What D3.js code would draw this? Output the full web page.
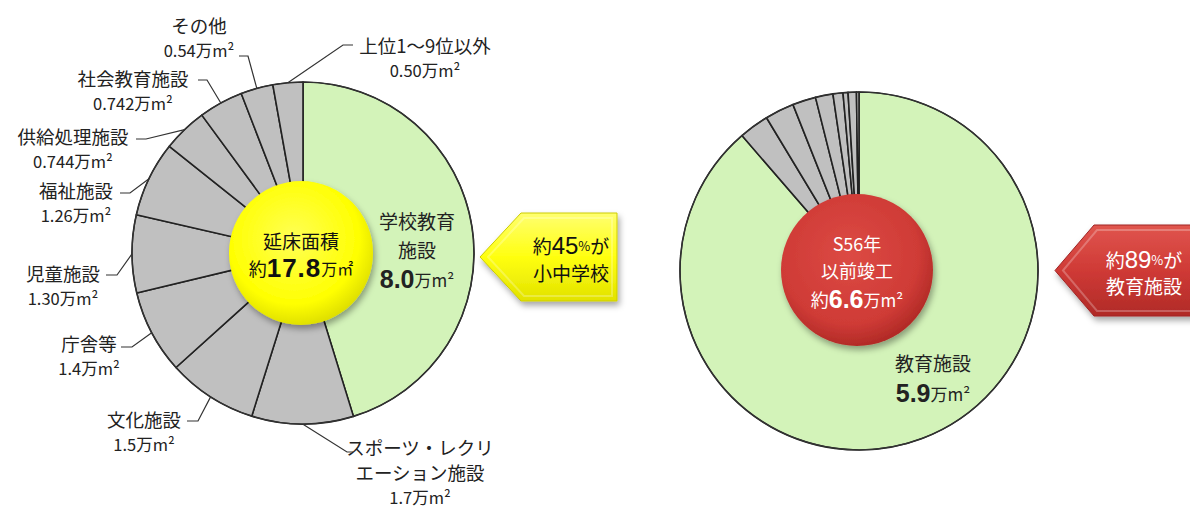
<!DOCTYPE html>
<html>
<head>
<meta charset="utf-8">
<script src="https://cdn.jsdelivr.net/npm/d3@7"></script>
<style>
  body { margin: 0; background: #fff; }
  svg { display: block; font-family: "Noto Sans CJK JP", "Noto Sans", sans-serif; }
</style>
</head>
<body>
<div id="chart"></div>
<script>
// 延床面積の内訳（万m²）、上から時計回り
const categories = ['学校教育施設', 'スポーツ・レクリエーション施設', '文化施設', '庁舎等', '児童施設',
  '福祉施設', '供給処理施設', '社会教育施設', 'その他', '上位1～9位以外'];
const areaValues = [8.0, 1.7, 1.5, 1.4, 1.30, 1.26, 0.744, 0.742, 0.54, 0.50];
const areaLabels = ['8.0', '1.7', '1.5', '1.4', '1.30', '1.26', '0.744', '0.742', '0.54', '0.50'];
const totalLabel = '17.8';

// S56年以前竣工の内訳（万m²）、先頭が教育施設
const oldCategories = ['教育施設', 'a', 'b', 'c', 'd', 'e', 'f', 'g', 'h'];
const oldValues = [5.9, 0.18, 0.175, 0.14, 0.105, 0.06, 0.03, 0.05, 0.015];
const oldTotalLabel = '6.6';

const shareLabels = ['45', '89'];

// layout
const W = 1190, H = 511;
const left = { cx: 303, cy: 253, r: 171, hub: 72 };
const right = { cx: 859, cy: 271, r: 179, hub: 76 };
const GREEN = '#d3f3b9', GRAY = '#c0c0c0', INK = '#222';

// label positions for the left pie (index matches categories)
const labelLayout = [
  null,
  { x: 420, y: 447, names: ['スポーツ・レクリ', 'エーション施設'], elbow: [347, 452], end: [353, 452] },
  { x: 144, y: 419, names: ['文化施設'], elbow: [198, 421], end: [187, 421] },
  { x: 89, y: 343, names: ['庁舎等'], elbow: [132, 347], end: [121, 347] },
  { x: 63, y: 273, names: ['児童施設'], elbow: [117, 275], end: [106, 275] },
  { x: 76, y: 190, names: ['福祉施設'], elbow: [130, 193], end: [120, 193] },
  { x: 73, y: 136, names: ['供給処理施設'], elbow: [146, 139], end: [136, 139] },
  { x: 133, y: 78, names: ['社会教育施設'], elbow: [207, 80], end: [198, 80] },
  { x: 199, y: 25, names: ['その他'], elbow: [248, 56], end: [239, 56] },
  { x: 425, y: 45, names: ['上位1～9位以外'], elbow: [343, 45], end: [353, 45] }
];

const svg = d3.select('#chart').append('svg')
    .attr('width', W)
    .attr('height', H)
    .attr('viewBox', [0, 0, W, H]);

const defs = svg.append('defs');

const shadow = defs.append('filter').attr('id', 'shadow')
    .attr('x', '-20%').attr('y', '-20%').attr('width', '150%').attr('height', '150%');
shadow.append('feDropShadow')
    .attr('dx', 2).attr('dy', 4).attr('stdDeviation', 3)
    .attr('flood-color', '#000').attr('flood-opacity', 0.35);

const addRadial = (id, stops) => {
  const g = defs.append('radialGradient').attr('id', id)
      .attr('cx', '45%').attr('cy', '40%').attr('r', '65%');
  stops.forEach(([o, c]) => g.append('stop').attr('offset', o).attr('stop-color', c));
};
const addLinear = (id, stops) => {
  const g = defs.append('linearGradient').attr('id', id)
      .attr('x1', 0).attr('y1', 0).attr('x2', 0).attr('y2', 1);
  stops.forEach(([o, c]) => g.append('stop').attr('offset', o).attr('stop-color', c));
};
addRadial('yellowBall', [['0%', '#ffff55'], ['70%', '#ffff00'], ['100%', '#d6d600']]);
addRadial('redBall', [['0%', '#dc4a44'], ['70%', '#cf3b36'], ['100%', '#a82522']]);
addLinear('yellowArrow', [['0%', '#ffff70'], ['50%', '#ffff10'], ['100%', '#e2e200']]);
addLinear('redArrow', [['0%', '#e0554e'], ['50%', '#cf3a36'], ['100%', '#b02a27']]);

const pie = d3.pie().sort(null).value((d) => d);

// draws a pie with outline and separators
const drawPie = (g, values, r, fillOf) => {
  const arcs = pie(values);
  const arc = d3.arc().innerRadius(0).outerRadius(r);
  g.selectAll('path.slice')
      .data(arcs)
      .join('path')
      .attr('class', 'slice')
      .attr('d', arc)
      .attr('fill', (d, i) => fillOf(i))
      .attr('stroke', INK)
      .attr('stroke-width', 1.6)
      .attr('stroke-linejoin', 'round');
  g.append('circle').attr('r', r)
      .attr('fill', 'none').attr('stroke', '#333').attr('stroke-width', 1.2);
  return arcs;
};

// value line like 0.54万m²
const valueText = (sel, num, numSize, unitSize, bold) => {
  sel.append('tspan').text(num)
      .attr('font-size', numSize)
      .attr('font-weight', bold ? 'bold' : 'normal')
      .attr('font-family', bold ? 'Arial, "Liberation Sans", sans-serif' : null);
  sel.append('tspan').text('万m²').attr('font-size', unitSize);
};

// ---- left pie
const gl = svg.append('g').attr('transform', `translate(${left.cx},${left.cy})`);
const leftArcs = drawPie(gl, areaValues, left.r, (i) => i === 0 ? GREEN : GRAY);

const rim = d3.arc().innerRadius(left.r).outerRadius(left.r);
const leaders = svg.append('g')
    .attr('fill', 'none').attr('stroke', '#333').attr('stroke-width', 1.2);
const labels = svg.append('g').attr('fill', INK).attr('text-anchor', 'middle');

leftArcs.forEach((d, i) => {
  const lay = labelLayout[i];
  if (!lay) return;
  const [px, py] = rim.centroid(d);
  leaders.append('path')
      .attr('d', d3.line()([[left.cx + px, left.cy + py], lay.elbow, lay.end]));
  lay.names.forEach((n, k) => {
    labels.append('text')
        .attr('x', lay.x).attr('y', lay.y + k * 25)
        .attr('dominant-baseline', 'central')
        .attr('font-size', 18.5)
        .text(n);
  });
  labels.append('text')
      .attr('x', lay.x).attr('y', lay.y + lay.names.length * 25)
      .attr('dominant-baseline', 'central')
      .call(valueText, areaLabels[i], 16.5, 16.5, false);
});

// label inside the green slice
const inner = svg.append('g').attr('fill', INK).attr('text-anchor', 'middle');
['学校教育', '施設'].forEach((t, k) => {
  inner.append('text').attr('x', 417).attr('y', 220 + k * 29)
      .attr('dominant-baseline', 'central').attr('font-size', 19).text(t);
});
inner.append('text').attr('x', 417).attr('y', 279)
    .attr('dominant-baseline', 'central')
    .call(valueText, areaLabels[0], 25, 17, true);

// yellow hub
svg.append('circle')
    .attr('cx', left.cx - 2).attr('cy', left.cy).attr('r', left.hub)
    .attr('fill', 'url(#yellowBall)').attr('filter', 'url(#shadow)');
const hubL = svg.append('g').attr('fill', '#111').attr('text-anchor', 'middle');
hubL.append('text').attr('x', left.cx - 2).attr('y', 240)
    .attr('dominant-baseline', 'central').attr('font-size', 19).text('延床面積');
const tl = hubL.append('text').attr('x', left.cx - 2).attr('y', 268)
    .attr('dominant-baseline', 'central');
tl.append('tspan').text('約').attr('font-size', 18);
tl.append('tspan').text(totalLabel).attr('font-size', 26).attr('font-weight', 'bold')
    .attr('font-family', 'Arial, "Liberation Sans", sans-serif').attr('letter-spacing', 1);
tl.append('tspan').text('万㎡').attr('font-size', 16);

// ---- right pie
const gr = svg.append('g').attr('transform', `translate(${right.cx},${right.cy})`);
drawPie(gr, oldValues, right.r, (i) => i === 0 ? GREEN : GRAY);

svg.append('circle')
    .attr('cx', right.cx - 2).attr('cy', right.cy - 1).attr('r', right.hub)
    .attr('fill', 'url(#redBall)').attr('filter', 'url(#shadow)');
const hubR = svg.append('g').attr('fill', '#fff').attr('text-anchor', 'middle');
['S56年', '以前竣工'].forEach((t, k) => {
  hubR.append('text').attr('x', right.cx - 2).attr('y', 243 + k * 27)
      .attr('dominant-baseline', 'central').attr('font-size', 18).text(t);
});
const tr = hubR.append('text').attr('x', right.cx - 2).attr('y', 299)
    .attr('dominant-baseline', 'central');
tr.append('tspan').text('約').attr('font-size', 18);
tr.append('tspan').text(oldTotalLabel).attr('font-size', 25).attr('font-weight', 'bold')
    .attr('font-family', 'Arial, "Liberation Sans", sans-serif');
tr.append('tspan').text('万m²').attr('font-size', 17);

const edu = svg.append('g').attr('fill', INK).attr('text-anchor', 'middle');
edu.append('text').attr('x', 933).attr('y', 362)
    .attr('dominant-baseline', 'central').attr('font-size', 19).text(oldCategories[0]);
edu.append('text').attr('x', 933).attr('y', 393)
    .attr('dominant-baseline', 'central')
    .call(valueText, '5.9', 25, 17, true);

// ---- arrow callouts
const drawArrow = (tip, bodyX, top, bottom, rightX, fill, edge, textFill, share, word) => {
  const g = svg.append('g');
  const pts = [[tip, (top + bottom) / 2], [bodyX, top], [rightX, top], [rightX, bottom], [bodyX, bottom]];
  g.append('path').attr('d', d3.line()(pts) + 'Z')
      .attr('fill', fill).attr('stroke', edge).attr('stroke-width', 1)
      .attr('filter', 'url(#shadow)');
  // bevel highlight
  const ins = 5;
  const inPts = [[tip + ins * 1.6, (top + bottom) / 2], [bodyX + ins * 0.6, top + ins],
    [rightX - ins, top + ins], [rightX - ins, bottom - ins], [bodyX + ins * 0.6, bottom - ins]];
  g.append('path').attr('d', d3.line()(inPts) + 'Z')
      .attr('fill', 'none').attr('stroke', '#fff').attr('stroke-opacity', 0.25).attr('stroke-width', 2);
  const cx = (bodyX + Math.min(rightX, W)) / 2 + 2;
  const cy = (top + bottom) / 2;
  const t1 = g.append('text').attr('x', cx).attr('y', cy - 12)
      .attr('text-anchor', 'middle').attr('dominant-baseline', 'central').attr('fill', textFill);
  t1.append('tspan').text('約').attr('font-size', 19);
  t1.append('tspan').text(share).attr('font-size', 24)
      .attr('font-family', 'Arial, "Liberation Sans", sans-serif');
  t1.append('tspan').text('%').attr('font-size', 13);
  t1.append('tspan').text('が').attr('font-size', 19);
  g.append('text').attr('x', cx).attr('y', cy + 15)
      .attr('text-anchor', 'middle').attr('dominant-baseline', 'central')
      .attr('fill', textFill).attr('font-size', 19).text(word);
};

drawArrow(480, 521, 213, 301, 617, 'url(#yellowArrow)', '#cccc00', '#111', shareLabels[0], '小中学校');
drawArrow(1055, 1094, 225, 316, 1200, 'url(#redArrow)', '#a02424', '#fff', shareLabels[1], '教育施設');
</script>
</body>
</html>
